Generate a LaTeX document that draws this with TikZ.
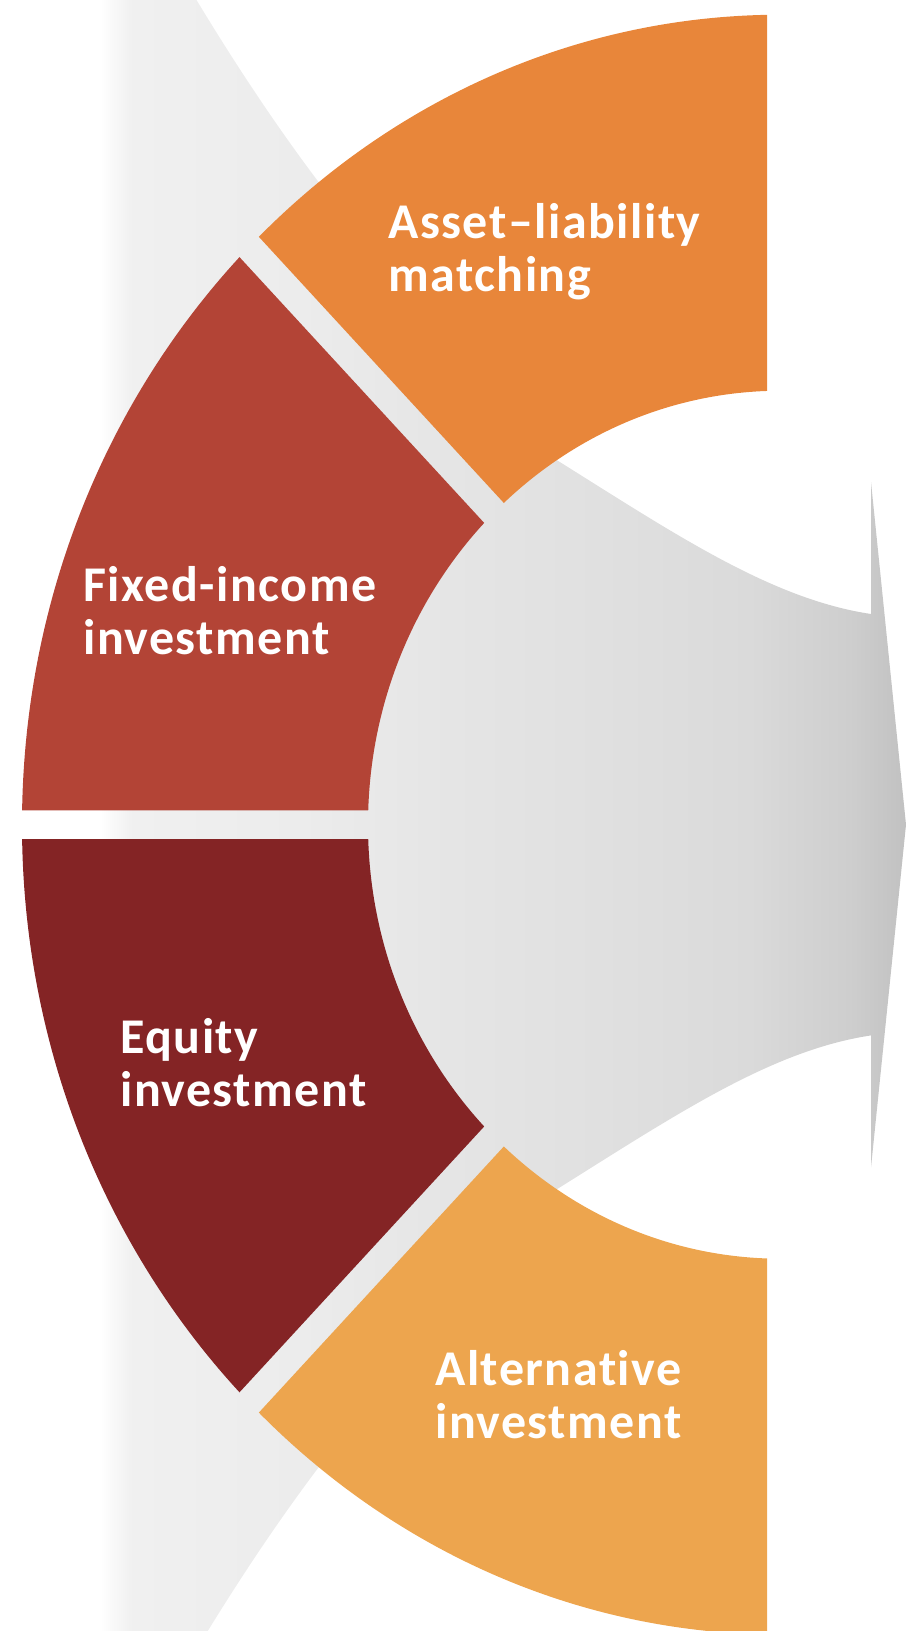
\documentclass[tikz,border=0pt]{standalone}
\usepackage{fontspec}
\setmainfont{Carlito}[Ligatures={NoCommon}]
\definecolor{segA}{RGB}{232,134,58}
\definecolor{segB}{RGB}{179,68,54}
\definecolor{segC}{RGB}{132,36,37}
\definecolor{segD}{RGB}{237,165,78}
\definecolor{gA}{RGB}{240,240,240}
\definecolor{gB}{RGB}{236,236,236}
\definecolor{gC}{RGB}{229,229,229}
\definecolor{gD}{RGB}{224,224,224}
\definecolor{gE}{RGB}{218,218,218}
\definecolor{gF}{RGB}{206,206,206}
\definecolor{gG}{RGB}{193,193,193}
\pgfdeclarehorizontalshading{grayfade}{100bp}{color(0bp)=(white); color(25bp)=(white); color(27bp)=(gA); color(37.4bp)=(gB); color(46.7bp)=(gC); color(56bp)=(gD); color(65.3bp)=(gE); color(71.5bp)=(gF); color(75bp)=(gG); color(100bp)=(gG)}
\tikzset{
  seglabel/.style={anchor=base west, inner sep=0pt, text=white, align=left,
    font=\fontsize{50}{53.4}\selectfont\bfseries\addfontfeature{LetterSpace=3}},
  ringfill/.style={even odd rule},
}
\begin{document}
\begin{tikzpicture}[x=1pt,y=-1pt]
\useasboundingbox (0,0) rectangle (907,1631);
\clip (0,0) rectangle (907,1631);
% gray arrow background
\begin{scope}
  \clip (100,-60) -- (161,-60) .. controls (207.4,20) and (257,100) .. (317,180)
    -- (555,459) .. controls (675,534) and (771,599) .. (871,614)
    -- (871,482) -- (906,824.7) -- (871,1167.4) -- (871,1035.4)
    .. controls (771,1050.4) and (675,1115.4) .. (555,1190.4)
    -- (317,1469.4) .. controls (257,1549.4) and (207.4,1629.4) .. (161,1709.4)
    -- (100,1709.4) -- cycle;
  \shade[shading=grayfade] (100,-60) rectangle (906,1710);
\end{scope}
% orange segment (top)
\begin{scope}
  \clip (767,788.8) -- (-50,-98.7) -- (-50,-150) -- (767,-150) -- cycle;
  \fill[segA, ringfill] (781,824.7) ellipse [x radius=759pt, y radius=810pt]
    (781,824.7) ellipse [x radius=413pt, y radius=434pt];
\end{scope}
% red segment
\begin{scope}
  \clip (748.75,810.35) -- (-50,-57.4) -- (-50,810.35) -- cycle;
  \fill[segB, ringfill] (781,824.7) ellipse [x radius=759pt, y radius=810pt]
    (781,824.7) ellipse [x radius=413pt, y radius=434pt];
\end{scope}
% dark red segment
\begin{scope}
  \clip (748.75,839.05) -- (-50,1706.8) -- (-50,839.05) -- cycle;
  \fill[segC, ringfill] (781,824.7) ellipse [x radius=759pt, y radius=810pt]
    (781,824.7) ellipse [x radius=413pt, y radius=434pt];
\end{scope}
% light orange segment (bottom)
\begin{scope}
  \clip (767,860.6) -- (-50,1748.1) -- (-50,1800) -- (767,1800) -- cycle;
  \fill[segD, ringfill] (781,824.7) ellipse [x radius=759pt, y radius=810pt]
    (781,824.7) ellipse [x radius=413pt, y radius=434pt];
\end{scope}
% labels (anchored at the baseline of the last line)
\node[seglabel] (alm) at (388,291.7) {Asset–liability\\matching};
\node[seglabel] (fii) at (83,654.4) {Fixed-income\\investment};
\node[seglabel] (eqi) at (120,1106.4) {Equity\\investment};
\node[seglabel] (alt) at (435,1438.9) {Alternative\\investment};
\end{tikzpicture}
\end{document}
